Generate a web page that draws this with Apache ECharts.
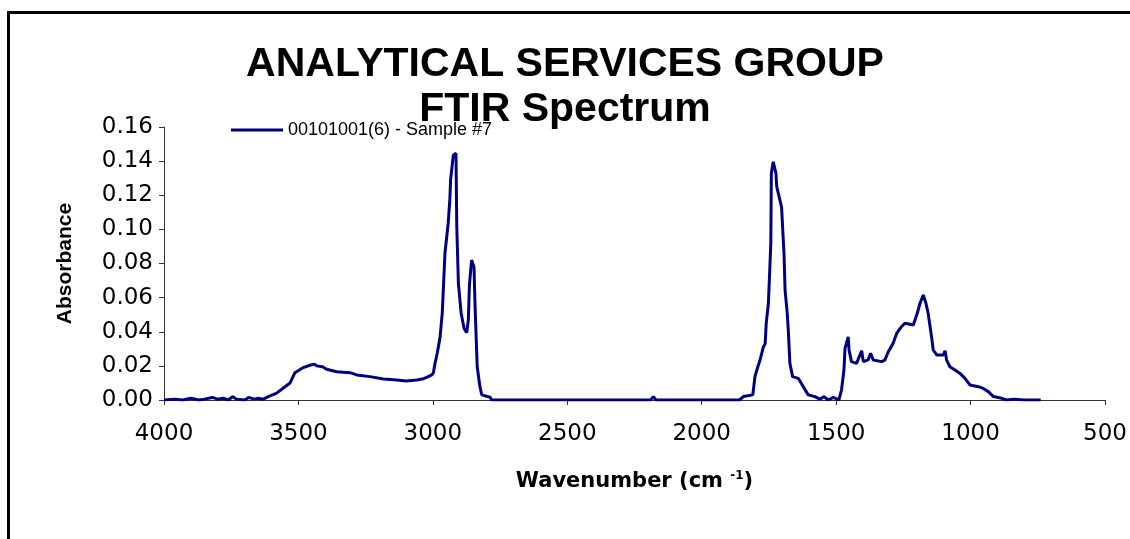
<!DOCTYPE html>
<html>
<head>
<meta charset="utf-8">
<script src="https://cdn.jsdelivr.net/npm/echarts@6/dist/echarts.min.js"></script>
<style>
  html, body { margin: 0; padding: 0; background: #fff; }
  #chart { width: 1130px; height: 539px; }
</style>
</head>
<body>
<div id="chart"></div>
<script>
const titleLines = ['ANALYTICAL SERVICES GROUP', 'FTIR Spectrum']
const seriesName = '00101001(6) - Sample #7'

// wavenumber (cm-1) and absorbance, high to low
const wavenumber = [
  4000, 3960, 3930, 3900, 3870, 3850, 3820, 3800, 3780, 3760, 3745, 3730, 3700, 3685, 3665, 3650, 3630,
  3612, 3581, 3556, 3531, 3513, 3482, 3455, 3440, 3432, 3410, 3395, 3358, 3308, 3283, 3234, 3184, 3134,
  3100, 3060, 3035, 3023, 3004, 2998, 2992, 2983, 2973, 2965, 2955, 2943, 2937, 2934, 2924, 2914, 2911,
  2905, 2895, 2884, 2874, 2868, 2864, 2856, 2847, 2843, 2835, 2825, 2818, 2787, 2781, 2700, 2500, 2190,
  2180, 2170, 2000, 1860, 1845, 1810, 1802, 1793, 1783, 1771, 1764, 1760, 1752, 1748, 1743, 1741, 1734,
  1724, 1721, 1703, 1694, 1690, 1682, 1678, 1672, 1662, 1641, 1622, 1604, 1579, 1560, 1545, 1530, 1510,
  1490, 1486, 1480, 1471, 1467, 1455, 1452, 1443, 1424, 1414, 1405, 1399, 1381, 1372, 1362, 1331, 1319,
  1306, 1288, 1275, 1257, 1244, 1213, 1198, 1188, 1176, 1166, 1158, 1145, 1139, 1126, 1101, 1095, 1089,
  1077, 1058, 1039, 1021, 1002, 971, 953, 934, 915, 884, 866, 840, 800, 739
]
const absorbance = [
  0, 0.0005, 0, 0.001, 0, 0.0005, 0.0015, 0.0005, 0.001, 0, 0.002, 0.0005, 0, 0.0015, 0.0005, 0.001, 0.0005,
  0.002, 0.004, 0.007, 0.010, 0.016, 0.019, 0.0205, 0.021, 0.020, 0.0195, 0.018, 0.0166, 0.016, 0.0147, 0.0137, 0.0123, 0.0117,
  0.0112, 0.0117, 0.0125, 0.0133, 0.0147, 0.016, 0.0215, 0.028, 0.037, 0.051, 0.086, 0.1035, 0.117, 0.129, 0.1435, 0.1446, 0.1016,
  0.0684, 0.051, 0.042, 0.0395, 0.047, 0.0674, 0.082, 0.078, 0.0547, 0.0195, 0.0078, 0.003, 0.0016, 0, 0, 0, 0,
  0.002, 0, 0, 0, 0.002, 0.003, 0.0137, 0.0186, 0.0234, 0.031, 0.033, 0.045, 0.0567, 0.072, 0.0918, 0.1328, 0.1396,
  0.133, 0.125, 0.113, 0.086, 0.0645, 0.051, 0.041, 0.0215, 0.0137, 0.0127, 0.0078, 0.003, 0.002, 0.0005, 0.002, 0, 0.0015,
  0, 0.001, 0.006, 0.0176, 0.0303, 0.037, 0.0293, 0.0225, 0.0215, 0.0254, 0.0289, 0.0225, 0.0235, 0.0274, 0.0234, 0.0225, 0.0234,
  0.0283, 0.0332, 0.039, 0.043, 0.045, 0.044, 0.051, 0.0567, 0.0615, 0.0567, 0.051, 0.037, 0.0293, 0.0264, 0.0264, 0.0289, 0.0234,
  0.0195, 0.0176, 0.0156, 0.0127, 0.0088, 0.0078, 0.0068, 0.0049, 0.002, 0.001, 0, 0.0005, 0, 0
]

const points = wavenumber.map((w, i) => [w, absorbance[i]])

const myChart = echarts.init(document.getElementById('chart'))
myChart.setOption({
  backgroundColor: '#fff',
  animation: false,
  title: {
    text: titleLines.join('\n'),
    left: 'center',
    top: 42,
    padding: 0,
    textStyle: {
      fontFamily: 'Liberation Sans',
      fontWeight: 'bold',
      fontSize: 41,
      lineHeight: 45,
      color: '#000'
    }
  },
  legend: {
    left: 231,
    top: 121,
    padding: 0,
    icon: 'rect',
    itemWidth: 52,
    itemHeight: 3,
    itemGap: 4,
    textStyle: { fontFamily: 'Liberation Sans', fontSize: 18, color: '#000' },
    data: [seriesName]
  },
  grid: { left: 164, right: 25, top: 127, bottom: 139 },
  xAxis: {
    type: 'value',
    inverse: true,
    min: 500,
    max: 4000,
    interval: 500,
    name: 'Wavenumber (cm {sup|-1})',
    nameLocation: 'middle',
    nameGap: 70,
    nameTextStyle: {
      fontFamily: 'DejaVu Sans',
      fontWeight: 'bold',
      fontSize: 21,
      color: '#000',
      rich: {
        sup: { fontFamily: 'DejaVu Sans', fontWeight: 'bold', fontSize: 12, verticalAlign: 'top', padding: [0, 0, 12, 0] }
      }
    },
    axisLine: { lineStyle: { color: '#333', width: 1 } },
    axisTick: { length: 5, lineStyle: { color: '#333' } },
    axisLabel: {
      margin: 23,
      fontFamily: 'DejaVu Sans',
      fontSize: 23,
      color: '#000',
      showMaxLabel: true,
      formatter: v => String(v)
    },
    splitLine: { show: false }
  },
  yAxis: {
    type: 'value',
    min: 0,
    max: 0.16,
    interval: 0.02,
    name: 'Absorbance',
    nameLocation: 'middle',
    nameRotate: 90,
    nameGap: 88,
    nameTextStyle: { fontFamily: 'Liberation Sans', fontWeight: 'bold', fontSize: 21, color: '#000' },
    axisLine: { show: true, lineStyle: { color: '#333', width: 1 } },
    axisTick: { show: true, length: 5, lineStyle: { color: '#333' } },
    axisLabel: {
      margin: 11,
      fontFamily: 'DejaVu Sans',
      fontSize: 23,
      color: '#000',
      formatter: v => v.toFixed(2)
    },
    splitLine: { show: false }
  },
  graphic: [{
    type: 'rect',
    shape: { x: 8.5, y: 12.5, width: 1300, height: 700 },
    style: { fill: 'none', stroke: '#000', lineWidth: 3 },
    silent: true
  }],
  series: [{
    name: seriesName,
    type: 'line',
    symbol: 'none',
    data: points,
    lineStyle: { color: '#000080', width: 3 },
    itemStyle: { color: '#000080' }
  }]
})
</script>
</body>
</html>
